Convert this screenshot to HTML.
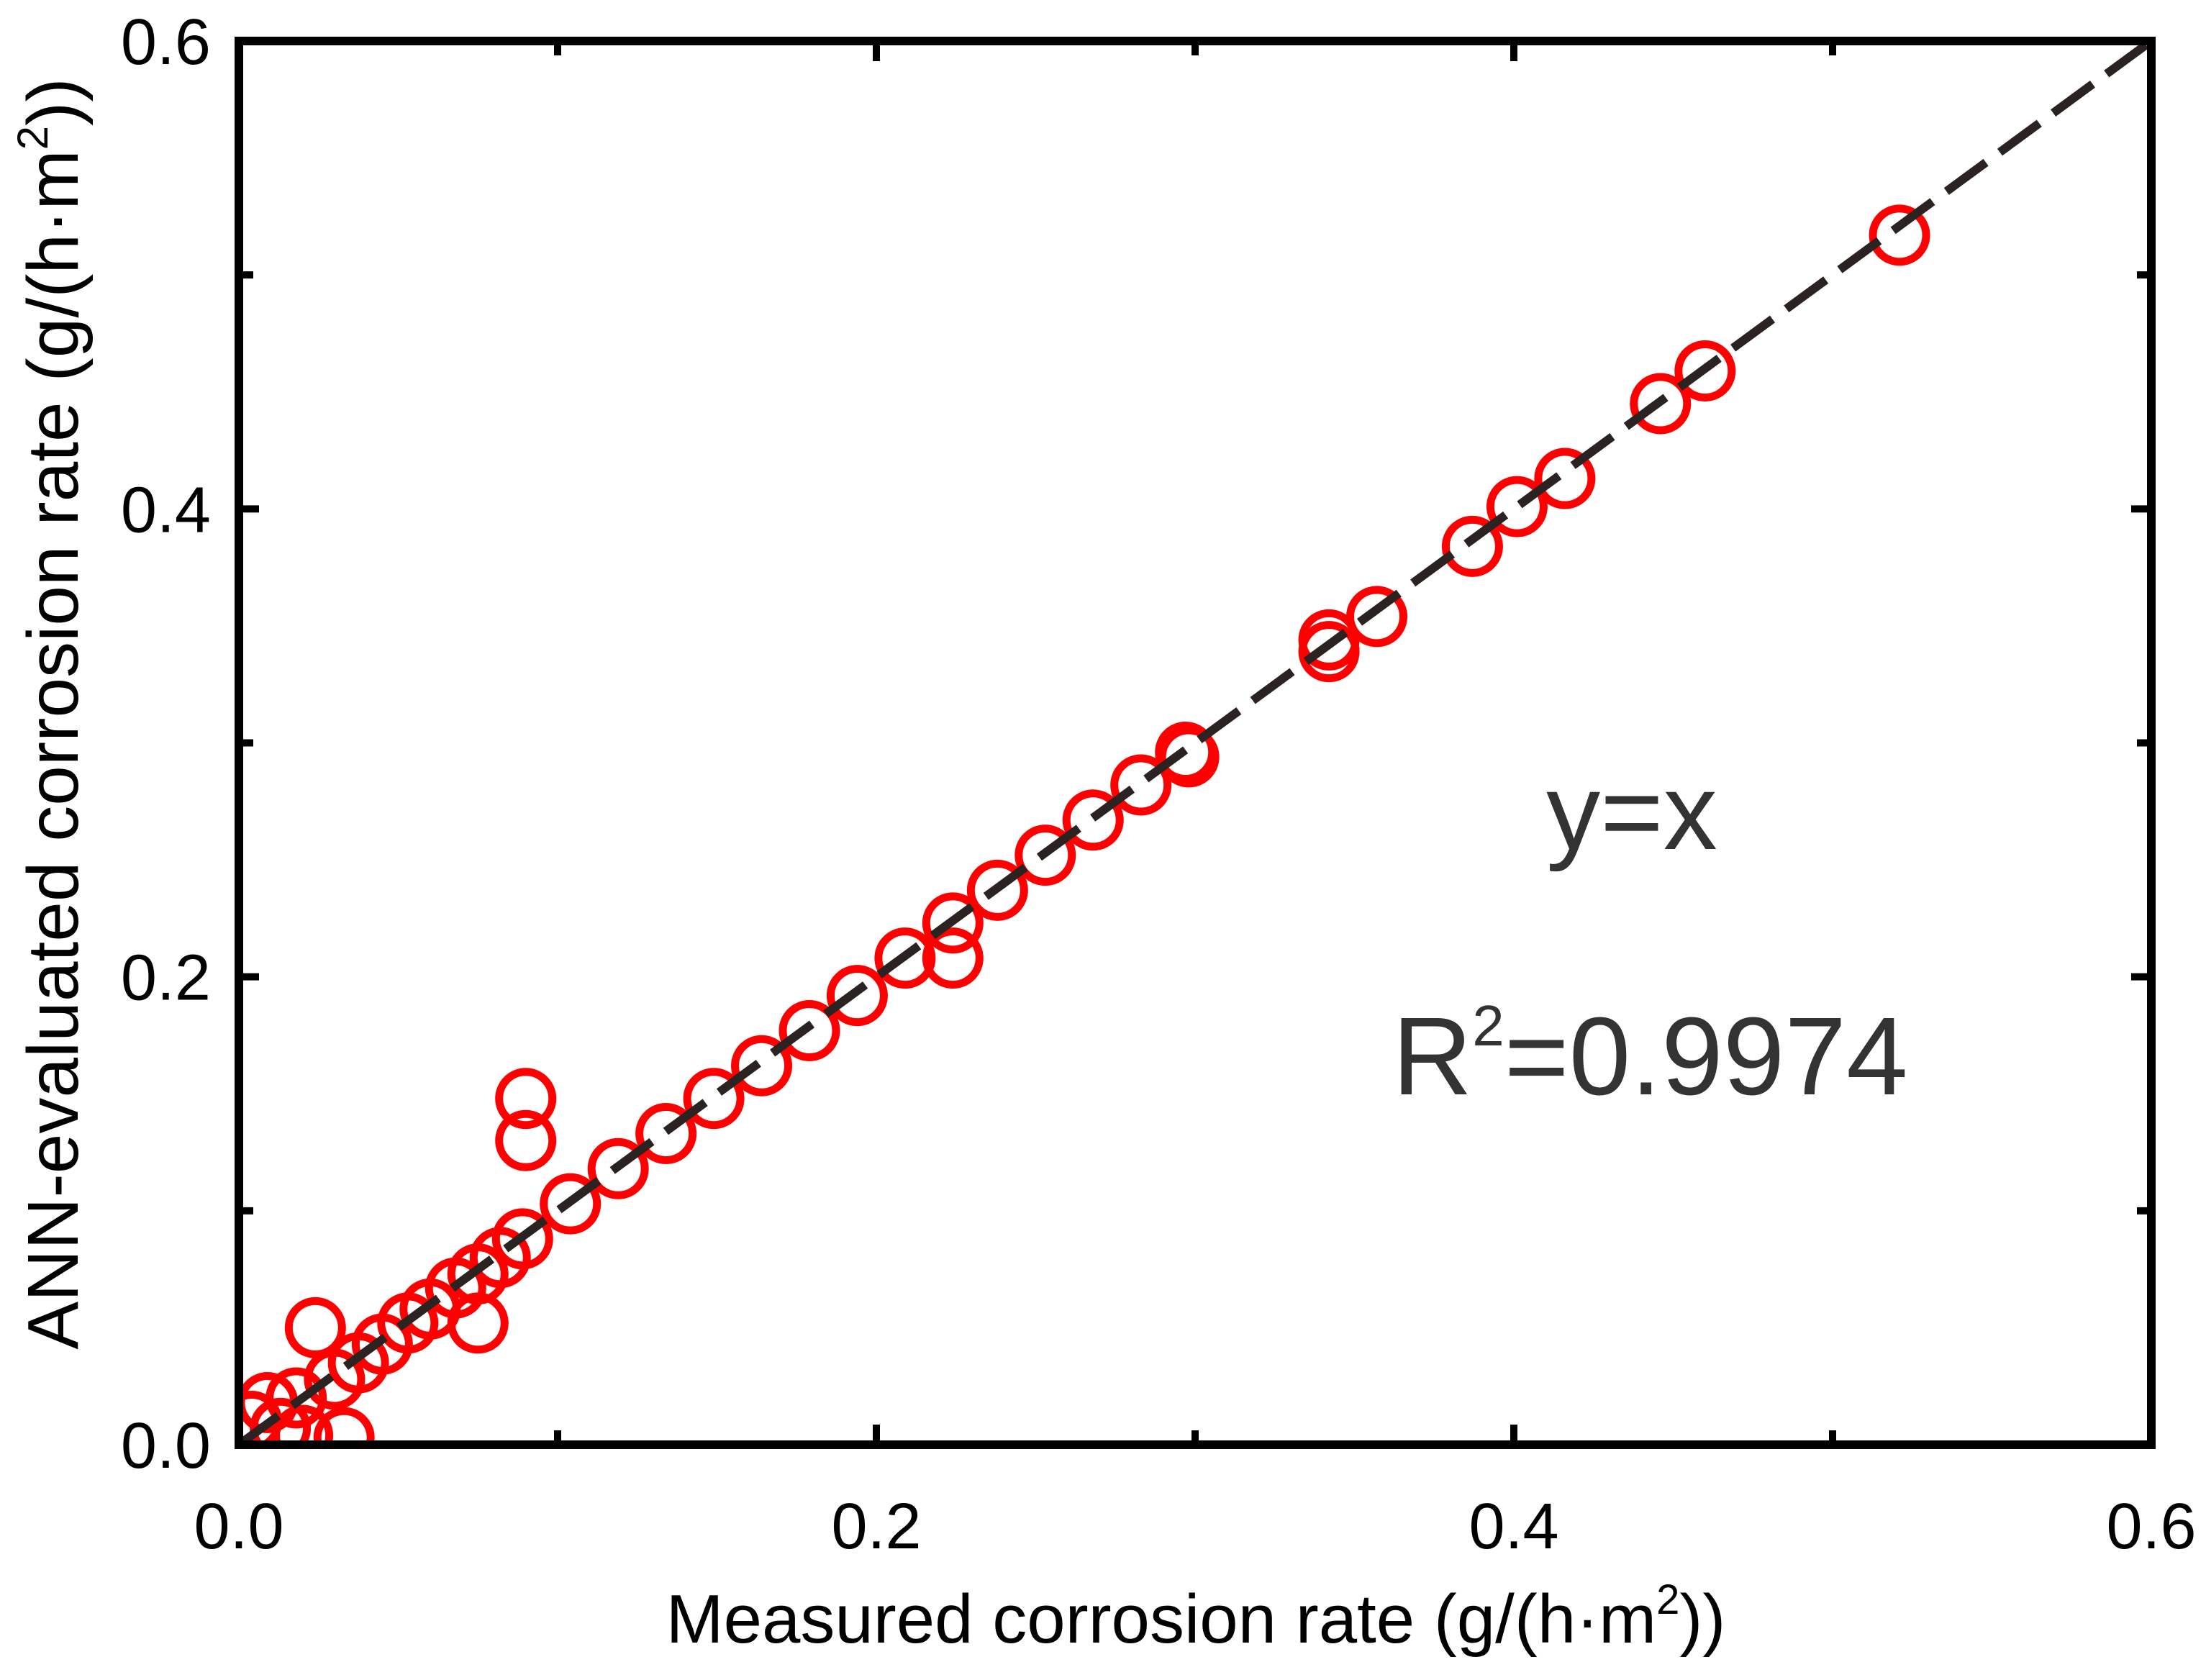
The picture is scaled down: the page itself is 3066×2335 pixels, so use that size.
<!DOCTYPE html>
<html><head><meta charset="utf-8"><style>
html,body{margin:0;padding:0;background:#fff;}
svg{display:block;font-family:"Liberation Sans",Arial,sans-serif;}
</style></head><body>
<svg id="chart" width="3066" height="2335" viewBox="0 0 3066 2335" xmlns="http://www.w3.org/2000/svg">
<defs><clipPath id="pc"><rect x="332" y="57" width="2658" height="1951"/></clipPath></defs>
<g id="marks" clip-path="url(#pc)"></g>
<g id="axes"></g>
<text x="2268" y="1180" font-size="150" fill="#333" text-anchor="middle">y=x</text>
<text x="1935" y="1521" font-size="154" fill="#333">R<tspan font-size="80" dy="-68">2</tspan><tspan dy="68">=0.9974</tspan></text>
<text x="1662" y="2283" font-size="96" fill="#000" text-anchor="middle">Measured corrosion rate (g/(h·m<tspan font-size="58" dy="-40">2</tspan><tspan dy="40">))</tspan></text>
<text transform="translate(108,992) rotate(-90)" font-size="100" fill="#000" text-anchor="middle">ANN-evaluated corrosion rate (g/(h·m<tspan font-size="60" dy="-42">2</tspan><tspan dy="42">))</tspan></text>
</svg>
<script>
const xTicks=[0,0.2,0.4,0.6];
const yTicks=[0,0.2,0.4,0.6];
const tickLabels=["0.0","0.2","0.4","0.6"];
const measured=[0.521,0.460,0.446,0.416,0.401,0.387,0.357,0.342,0.342,0.298,0.297,0.283,0.268,0.253,0.238,0.224,0.224,0.209,0.194,0.179,0.164,0.149,0.134,0.119,0.104,0.090,0.090,0.089,0.082,0.075,0.075,0.068,0.060,0.053,0.045,0.0375,0.030,0.024,0.033,0.018,0.009,0.013,0.020,0.004];
const evaluated=[0.517,0.459,0.445,0.413,0.401,0.384,0.354,0.339,0.344,0.294,0.296,0.282,0.267,0.252,0.237,0.223,0.208,0.208,0.192,0.177,0.162,0.148,0.133,0.118,0.103,0.148,0.130,0.088,0.080,0.073,0.052,0.067,0.058,0.052,0.043,0.035,0.028,0.050,0.003,0.020,0.018,0.007,0.004,0.010];
const X0=332,X1=2990,Y0=2008,Y1=57,NS="http://www.w3.org/2000/svg";
const sx=v=>X0+(v/0.6)*(X1-X0), sy=v=>Y0-(v/0.6)*(Y0-Y1);
function mk(t,a,p){const e=document.createElementNS(NS,t);for(const k in a)e.setAttribute(k,a[k]);p.appendChild(e);return e;}
const marks=document.getElementById('marks'),axes=document.getElementById('axes');
for(let i=0;i<measured.length;i++){
 const c=mk('circle',{cx:sx(measured[i]),cy:sy(evaluated[i]),r:37,fill:'none',stroke:'#ff0000','stroke-width':11},marks);
 
 
}
const ln=mk('line',{x1:sx(0),y1:sy(0),x2:sx(0.6),y2:sy(0.6),stroke:'#2b2222','stroke-width':12,'stroke-dasharray':'68 24'},marks);


const fr=mk('rect',{x:X0,y:Y1,width:X1-X0,height:Y0-Y1,fill:'none',stroke:'#000','stroke-width':12},axes);


for(let v=0.1;v<0.6;v+=0.1){
 const major=Math.round(v*10)%2===0, L=major?28:20;
 const px=sx(v),py=sy(v);
 [[px,Y0,px,Y0-L],[px,Y1,px,Y1+L],[X0,py,X0+L,py],[X1,py,X1-L,py]].forEach(s=>{
  const t=mk('line',{x1:s[0],y1:s[1],x2:s[2],y2:s[3],stroke:'#000','stroke-width':10},axes);
  
  
 });
}
xTicks.forEach((v,i)=>{
 const t=mk('text',{x:sx(v),y:2152,'font-size':90,'text-anchor':'middle',fill:'#000'},axes);t.textContent=tickLabels[i];
 
 
});
yTicks.forEach((v,i)=>{
 const t=mk('text',{x:293,y:sy(v)+32,'font-size':90,'text-anchor':'end',fill:'#000'},axes);t.textContent=tickLabels[i];
 
 
});
</script>
</body></html>
